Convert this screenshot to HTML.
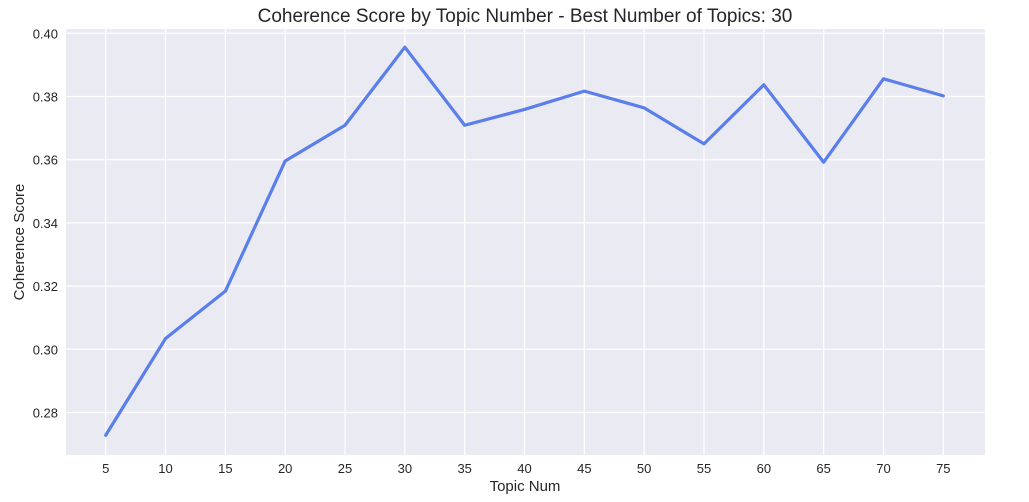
<!DOCTYPE html>
<html><head><meta charset="utf-8"><style>
body{margin:0;background:#fff;}
svg{display:block;font-family:"Liberation Sans",Arial,sans-serif;}
</style></head><body>
<svg id="chart" width="1029" height="502">
<rect x="0" y="0" width="1029" height="502" fill="#fff"/>
<rect id="plotbg" x="66" y="29" width="919" height="426" fill="#eaeaf2"/>
<g id="grid"></g>
<g id="ticks"></g>
<text x="525" y="22" text-anchor="middle" font-size="19" fill="#262626">Coherence Score by Topic Number - Best Number of Topics: 30</text>
<text x="525" y="491" text-anchor="middle" font-size="15" fill="#262626">Topic Num</text>
<text x="24" y="242" text-anchor="middle" font-size="15" fill="#262626" transform="rotate(-90 24 242)">Coherence Score</text>
<g id="series"></g>
</svg>
<script>
const topics=[5,10,15,20,25,30,35,40,45,50,55,60,65,70,75];
const scores=[0.2728,0.3034,0.3184,0.3596,0.3709,0.3956,0.3709,0.3759,0.3817,0.3764,0.3650,0.3837,0.3592,0.3856,0.3802];
const yTicks=[0.28,0.30,0.32,0.34,0.36,0.38,0.40];
const yLabels=["0.28","0.30","0.32","0.34","0.36","0.38","0.40"];
const xTicks=[5,10,15,20,25,30,35,40,45,50,55,60,65,70,75];
const NS="http://www.w3.org/2000/svg";
const xs=v=>105.7+(v-5)*59.83/5;
const ys=v=>33.3+(0.40-v)*3160;
const grid=document.getElementById('grid'),ticks=document.getElementById('ticks'),series=document.getElementById('series');
function mk(tag,attrs,parent){const e=document.createElementNS(NS,tag);for(const k in attrs)e.setAttribute(k,attrs[k]);parent.appendChild(e);return e;}
yTicks.forEach((v,i)=>{
 const l=mk('line',{x1:66,x2:985,y1:ys(v),y2:ys(v),stroke:'#fff','stroke-width':1.2},grid);
 
 
 const t=mk('text',{x:58,y:ys(v)+5,'text-anchor':'end','font-size':13,fill:'#262626'},ticks);
 t.textContent=yLabels[i];
 
 
});
xTicks.forEach(v=>{
 const l=mk('line',{x1:xs(v),x2:xs(v),y1:29,y2:455,stroke:'#fff','stroke-width':1.2},grid);
 
 
 const t=mk('text',{x:xs(v),y:473,'text-anchor':'middle','font-size':13,fill:'#262626'},ticks);
 t.textContent=String(v);
 
 
});
const p=mk('polyline',{points:topics.map((t,i)=>xs(t)+','+ys(scores[i])).join(' '),fill:'none',stroke:'#5b7fea','stroke-width':3.2,'stroke-linejoin':'round','stroke-linecap':'round'},series);


</script>
</body></html>
